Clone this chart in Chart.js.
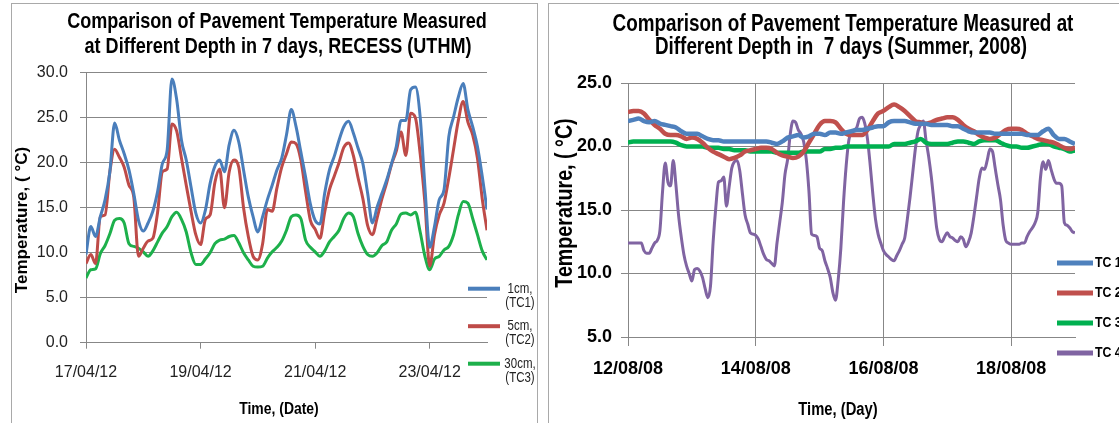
<!DOCTYPE html>
<html>
<head>
<meta charset="utf-8">
<script src="https://cdn.jsdelivr.net/npm/chart.js@4.4.1/dist/chart.umd.min.js"></script>
<style>
  body { margin: 0; background: #fff; width: 1119px; height: 423px; overflow: hidden; position: relative; }
  .panel { position: absolute; top: 3px; height: 460px; border: 1px solid #a9a9a9; background: #fff; }
  #panelA { left: 11px; width: 525px; }
  #panelB { left: 548px; width: 640px; }
  canvas { position: absolute; top: 0; left: 0; }
</style>
</head>
<body>
<div class="panel" id="panelA"><canvas id="recess" width="525" height="419"></canvas></div>
<div class="panel" id="panelB"><canvas id="summer" width="570" height="419"></canvas></div>
<script>
// ---- RECESS (UTHM), 17-24/04/12, readings every 2 hours ----
const recessStepH = 2;
const recessDates = ['17/04/12', '19/04/12', '21/04/12', '23/04/12'];
const recessNames = [['1cm,', '(TC1)'], ['5cm,', '(TC2)'], ['30cm,', '(TC3)']];
const recessTC1 = [
  9.8, 12.9, 11.8, 14.0, 15.9, 19.0, 24.4, 22.5, 21.0, 19.2, 16.6, 13.6,
  12.4, 13.3, 14.6, 16.8, 19.9, 21.4, 29.3, 27.0, 22.5, 20.3, 17.3, 14.4,
  13.3, 14.7, 17.7, 19.6, 20.3, 19.0, 22.0, 23.6, 22.3, 19.2, 16.2, 14.0,
  12.3, 14.0, 15.9, 17.5, 19.2, 20.5, 23.1, 25.9, 24.0, 21.2, 18.4, 15.4,
  13.6, 13.2, 16.6, 19.2, 20.7, 22.5, 24.0, 24.6, 23.3, 21.6, 19.9, 16.6,
  13.3, 15.1, 16.6, 18.1, 19.9, 21.8, 24.7, 24.7, 28.1, 28.4, 25.1, 17.3,
  10.6, 12.9, 15.9, 17.0, 22.9, 25.1, 27.3, 28.8, 25.9, 24.0, 21.8, 18.5,
  14.8
];
const recessTC2 = [
  8.8, 9.8, 8.8, 14.0, 14.2, 19.0, 21.5, 20.6, 19.5, 17.5, 16.2, 9.6,
  10.5, 11.3, 11.6, 14.5, 19.0, 19.3, 24.3, 23.5, 20.5, 17.5, 14.6, 12.0,
  10.9, 13.7, 14.2, 17.8, 19.3, 15.0, 19.0, 20.3, 19.5, 15.0, 11.8, 9.6,
  9.2, 11.0, 14.8, 14.6, 17.2, 19.5, 21.0, 22.3, 22.1, 20.3, 16.8, 13.6,
  12.6, 11.6, 14.5, 17.0, 18.5, 20.0, 21.7, 22.2, 20.8, 18.3, 16.0, 13.0,
  12.0, 13.9, 16.0, 17.8, 19.8, 21.3, 23.4, 20.8, 25.5, 25.0, 21.0, 15.5,
  8.5, 12.0, 14.2, 15.5, 18.3, 21.5, 24.7, 26.8, 24.5, 23.1, 20.5, 16.0,
  12.5
];
const recessTC3 = [
  7.2, 8.1, 8.2, 9.9, 10.8, 12.1, 13.6, 13.8, 13.3, 11.0, 10.7, 10.5,
  10.1, 9.6, 10.2, 11.2, 12.2, 12.9, 14.0, 14.5, 13.7, 12.3, 10.0, 8.7,
  8.7, 9.3, 10.0, 11.0, 11.4, 11.5, 11.8, 11.9, 11.1, 10.0, 9.2, 8.5,
  8.4, 8.5, 9.4, 10.1, 10.6, 11.3, 12.5, 14.0, 14.2, 13.8, 11.4, 10.6,
  10.1, 9.6, 10.2, 11.2, 11.8, 12.5, 13.8, 14.4, 14.0, 12.1, 10.7, 9.8,
  9.6, 10.0, 10.8, 11.2, 12.5, 13.2, 14.3, 14.4, 14.2, 14.5, 12.3, 9.6,
  8.1, 9.3, 9.6, 10.3, 10.7, 12.0, 14.2, 15.7, 15.5, 13.8, 12.0, 10.2,
  9.2
];

// ---- Summer 2008, 12-19/08/08; TC1-TC3 every 2 hours, TC4 hourly ----
const summerStepH = 2;
const summerStepH4 = 1;
const summerDates = ['12/08/08', '14/08/08', '16/08/08', '18/08/08'];
const summerNames = [['TC 1'], ['TC 2'], ['TC 3'], ['TC 4']];
const summerTC1 = [
  22.0, 22.1, 22.2, 22.0, 21.9, 22.0, 21.8, 21.7, 21.6, 21.5, 21.2, 21.0,
  21.0, 21.0, 20.8, 20.6, 20.5, 20.5, 20.4, 20.4, 20.4, 20.4, 20.4, 20.4,
  20.4, 20.4, 20.4, 20.3, 20.2, 20.4, 20.7, 20.8, 20.9, 20.7, 20.8, 21.0,
  21.0, 20.9, 21.1, 21.1, 21.0, 21.1, 21.2, 21.3, 21.3, 21.4, 21.5, 21.6,
  21.6, 21.9, 22.0, 22.0, 22.0, 21.9, 21.8, 21.8, 21.8, 21.7, 21.7, 21.7,
  21.7, 21.6, 21.6, 21.4, 21.2, 21.1, 21.1, 21.1, 21.1, 21.0, 21.0, 21.0,
  21.0, 21.0, 21.0, 20.9, 20.9, 20.9, 21.2, 21.4, 20.9, 20.6, 20.6, 20.4,
  20.2
];
const summerTC2 = [
  22.7, 22.8, 22.8, 22.6, 22.1, 21.7, 21.4, 21.0, 20.9, 20.9, 20.8, 20.6,
  20.7, 20.6, 20.3, 19.9, 19.6, 19.4, 19.2, 19.0, 19.1, 19.3, 19.6, 19.7,
  19.8, 19.9, 19.9, 19.8, 19.5, 19.3, 19.2, 19.1, 19.2, 19.6, 20.3, 21.0,
  21.7, 22.0, 22.0, 21.9, 21.4, 21.0, 20.9, 20.9, 20.9, 21.3, 22.0, 22.6,
  22.8, 23.1, 23.3, 23.1, 22.8, 22.4, 22.0, 21.9, 21.8, 21.9, 22.1, 22.2,
  22.3, 22.3, 22.1, 21.7, 21.4, 21.2, 20.9, 20.7, 20.6, 20.7, 21.0, 21.3,
  21.4, 21.4, 21.3, 21.0, 20.8, 20.6, 20.5, 20.4, 20.3, 20.1, 19.9, 19.8,
  19.9
];
const summerTC3 = [
  20.3, 20.4, 20.4, 20.4, 20.4, 20.4, 20.4, 20.4, 20.4, 20.3, 20.1, 20.0,
  20.0, 20.0, 20.0, 19.9, 19.9, 19.9, 19.8, 19.8, 19.7, 19.7, 19.7, 19.6,
  19.6, 19.6, 19.6, 19.6, 19.5, 19.5, 19.5, 19.5, 19.5, 19.6, 19.6, 19.6,
  19.6, 19.8, 19.8, 19.9, 19.9, 20.0, 20.0, 20.0, 20.0, 20.0, 20.0, 20.0,
  20.0, 20.0, 20.2, 20.2, 20.2, 20.3, 20.4, 20.6, 20.3, 20.2, 20.2, 20.2,
  20.2, 20.3, 20.4, 20.4, 20.3, 20.2, 20.4, 20.5, 20.5, 20.5, 20.3, 20.1,
  20.0, 20.0, 19.9, 19.9, 20.0, 20.1, 20.2, 20.2, 20.0, 19.9, 19.8, 19.6,
  19.7
];
const summerTC4 = [
  12.4, 12.4, 12.4, 12.4, 12.4, 12.4, 11.8, 11.6, 11.6, 12.0, 12.4, 12.6,
  13.4, 16.5, 18.7, 17.2, 16.9, 18.9, 17.0, 14.6, 12.9, 11.5, 10.6, 10.0,
  9.4, 10.3, 10.4, 10.2, 9.7, 8.8, 8.1, 9.0, 12.5, 15.2, 17.2, 17.3,
  17.6, 15.3, 16.8, 18.3, 18.8, 18.9, 18.1, 16.3, 14.6, 13.9, 13.2, 13.1,
  13.0, 12.7, 12.1, 11.5, 11.1, 11.0, 10.8, 10.6, 12.4, 14.0, 15.6, 17.8,
  19.0, 21.0, 22.0, 21.9, 21.3, 21.0, 20.4, 19.0, 16.5, 13.1, 13.0, 12.9,
  12.0, 11.8, 11.0, 10.4, 9.7, 8.5, 7.9, 9.5, 12.0, 15.6, 18.5, 20.5,
  21.1, 21.3, 21.5, 22.2, 22.3, 21.8, 20.6, 18.6, 16.3, 14.3, 13.1, 12.4,
  11.8, 11.5, 11.3, 11.1, 11.0, 11.4, 11.8, 12.3, 12.8, 14.3, 16.0, 17.9,
  19.8, 21.2, 21.7, 22.0, 20.5, 19.2, 17.6, 15.6, 13.6, 12.7, 12.5, 12.9,
  13.2, 12.9, 12.8, 12.6, 12.5, 12.9, 12.7, 12.1, 12.5, 13.2, 14.5, 16.0,
  17.5, 18.3, 18.2, 18.9, 19.8, 19.6, 18.3, 17.0, 15.8, 13.8, 12.6, 12.4,
  12.3, 12.3, 12.3, 12.3, 12.4, 12.4, 12.9, 13.3, 13.6, 14.0, 14.8, 17.5,
  18.8, 18.2, 18.9, 18.2, 17.5, 17.1, 17.1, 16.9, 14.0, 13.8, 13.6, 13.3,
  13.2
];

const GRID = '#878787';
const SANS = "'Liberation Sans', Arial, sans-serif";
const NARROW = 0.82; // horizontal squeeze for the condensed captions

// turn a list of readings into {x: day, y: value} points
function series(values, stepHours) {
  return values.map((v, i) => ({ x: i * stepHours / 24, y: v }));
}

function line(label, values, stepHours, color, width) {
  return {
    label: label,
    data: series(values, stepHours),
    borderColor: color,
    backgroundColor: color,
    borderWidth: width,
    pointRadius: 0,
    cubicInterpolationMode: 'monotone'
  };
}

function squeezedText(ctx, text, x, y, sx, rotate) {
  ctx.save();
  ctx.translate(x, y);
  if (rotate) ctx.rotate(rotate);
  ctx.scale(sx, 1);
  ctx.fillText(text, 0, 0);
  ctx.restore();
}

// chart and axis titles, drawn condensed
const captions = {
  id: 'captions',
  afterDraw(chart, args, o) {
    const ctx = chart.ctx;
    ctx.save();
    ctx.fillStyle = '#000';
    ctx.textAlign = 'center';
    ctx.textBaseline = 'middle';
    o.items.forEach(c => {
      ctx.font = c.font;
      squeezedText(ctx, c.text, c.x, c.y, c.sx || 1, c.rotate);
    });
    ctx.restore();
  }
};

// legend drawn to the right of the plot, one short line per dataset
const sideKey = {
  id: 'sideKey',
  afterDraw(chart, args, o) {
    const { ctx, chartArea } = chart;
    ctx.save();
    chart.data.datasets.forEach((ds, i) => {
      const y = chartArea.top + o.top + i * o.gap;
      ctx.strokeStyle = ds.borderColor;
      ctx.lineWidth = o.lineWidth;
      ctx.beginPath();
      ctx.moveTo(chartArea.right + o.x0, y);
      ctx.lineTo(chartArea.right + o.x1, y);
      ctx.stroke();
      ctx.fillStyle = o.color;
      ctx.font = o.font;
      ctx.textAlign = o.align;
      ctx.textBaseline = 'middle';
      o.names[i].forEach((t, j) => squeezedText(ctx, t, chartArea.right + o.tx, y + j * o.lineGap, NARROW));
    });
    ctx.restore();
  }
};

function evenDays(scale) {
  scale.ticks = [0, 2, 4, 6].map(v => ({ value: v }));
}

// ---- left chart ----
new Chart(document.getElementById('recess'), {
  type: 'line',
  data: {
    datasets: [
      line('1cm, (TC1)', recessTC1, recessStepH, '#4a7ebb', 3),
      line('5cm, (TC2)', recessTC2, recessStepH, '#be4b48', 3),
      line('30cm, (TC3)', recessTC3, recessStepH, '#1db04b', 3)
    ]
  },
  plugins: [sideKey, captions],
  options: {
    responsive: false,
    animation: false,
    devicePixelRatio: 1,
    layout: { padding: { left: 0, right: 50, top: 68.7, bottom: 0 } },
    plugins: {
      legend: { display: false },
      tooltip: { enabled: false },
      captions: {
        items: [
          { text: 'Comparison of Pavement Temperature Measured', x: 265, y: 18, sx: NARROW, font: 'bold 22px ' + SANS },
          { text: 'at Different Depth in 7 days, RECESS (UTHM)', x: 266, y: 43, sx: NARROW, font: 'bold 22px ' + SANS },
          { text: 'Time, (Date)', x: 267, y: 405, sx: NARROW, font: 'bold 17px ' + SANS },
          { text: 'Temperature, ( °C)', x: 10, y: 216, rotate: -Math.PI / 2, font: 'bold 17px ' + SANS }
        ]
      },
      sideKey: {
        names: recessNames, top: 216, gap: 37.5, x0: -19, x1: 13, tx: 33, lineGap: 14,
        lineWidth: 4, align: 'center', color: '#222', font: '14px ' + SANS
      }
    },
    scales: {
      x: {
        type: 'linear', min: 0, max: 7,
        afterBuildTicks: evenDays,
        afterFit: s => { s.height = 80.3; },
        grid: { drawOnChartArea: false, color: GRID, tickLength: 6 },
        border: { color: GRID },
        ticks: {
          maxRotation: 0, padding: 14, color: '#222',
          font: { family: SANS, size: 16 },
          callback: v => recessDates[v / 2]
        }
      },
      y: {
        min: 0, max: 30,
        afterFit: s => { s.width = 74; },
        grid: { color: GRID, tickLength: 6 },
        border: { color: GRID },
        ticks: {
          stepSize: 5, padding: 12, color: '#222',
          font: { family: SANS, size: 16 },
          callback: v => v.toFixed(1)
        }
      }
    }
  }
});

// ---- right chart ----
new Chart(document.getElementById('summer'), {
  type: 'line',
  data: {
    datasets: [
      line('TC 1', summerTC1, summerStepH, '#4f81bd', 4.5),
      line('TC 2', summerTC2, summerStepH, '#c0504d', 4.5),
      line('TC 3', summerTC3, summerStepH, '#00b050', 4.5),
      line('TC 4', summerTC4, summerStepH4, '#8064a2', 3)
    ]
  },
  plugins: [sideKey, captions],
  options: {
    responsive: false,
    animation: false,
    devicePixelRatio: 1,
    layout: { padding: { left: 0, right: 44, top: 79, bottom: 0 } },
    plugins: {
      legend: { display: false },
      tooltip: { enabled: false },
      captions: {
        items: [
          { text: 'Comparison of Pavement Temperature Measured at', x: 294, y: 21, sx: NARROW, font: 'bold 23px ' + SANS },
          { text: 'Different Depth in  7 days (Summer, 2008)', x: 292, y: 44, sx: NARROW, font: 'bold 23px ' + SANS },
          { text: 'Time, (Day)', x: 289, y: 406, sx: NARROW, font: 'bold 18px ' + SANS },
          { text: 'Temperature, ( °C)', x: 16, y: 199, sx: NARROW, rotate: -Math.PI / 2, font: 'bold 24px ' + SANS }
        ]
      },
      sideKey: {
        names: summerNames, top: 180, gap: 30, x0: -18, x1: 18, tx: 20, lineGap: 0,
        lineWidth: 5, align: 'left', color: '#000', font: 'bold 15px ' + SANS
      }
    },
    scales: {
      x: {
        type: 'linear', min: 0, max: 7,
        afterBuildTicks: evenDays,
        afterFit: s => { s.height = 86; },
        grid: { drawOnChartArea: true, color: GRID, tickLength: 9 },
        border: { color: GRID },
        ticks: {
          maxRotation: 0, padding: 12, color: '#000',
          font: { family: SANS, size: 18, weight: 'bold' },
          callback: v => summerDates[v / 2]
        }
      },
      y: {
        min: 5, max: 25,
        afterFit: s => { s.width = 79; },
        grid: { color: GRID, tickLength: 7 },
        border: { color: GRID },
        ticks: {
          stepSize: 5, padding: 9, color: '#000',
          font: { family: SANS, size: 18, weight: 'bold' },
          callback: v => v.toFixed(1)
        }
      }
    }
  }
});
</script>
</body>
</html>
